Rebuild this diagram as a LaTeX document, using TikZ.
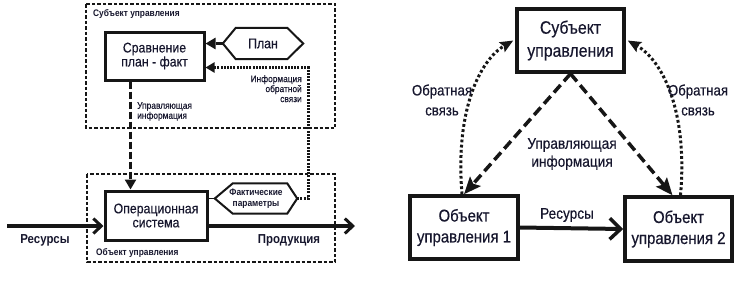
\documentclass[tikz,border=0pt]{standalone}
\usepackage{fontspec}
\setmainfont{Liberation Sans}[FakeStretch=0.88, UprightFeatures={FakeBold=0.35}]
\usetikzlibrary{arrows.meta,calc}
\definecolor{tc}{RGB}{22,22,45}
\definecolor{lc}{RGB}{22,22,22}
\begin{document}
\begin{tikzpicture}[x=1pt,y=-1pt,
  txt/.style={text=tc, inner sep=0pt, align=center},
  boxl/.style={draw=lc, line width=3pt, fill=white, inner sep=0pt, text=tc, align=center},
  region/.style={draw=lc, line width=1.3pt, dash pattern=on 3.5pt off 2pt},
  hexl/.style={draw=lc, line width=2pt, line join=miter},
  hexn/.style={inner sep=0pt, text=tc, align=center},
  ldash/.style={draw=lc, line width=2.6pt, dash pattern=on 7pt off 3pt, -{Triangle[length=10pt,width=11pt]}},
  ldot/.style={draw=lc, line width=3pt, dash pattern=on 2pt off 1.2pt, -{Triangle[length=9pt,width=10pt]}},
  barbarrow/.style={draw=lc, line width=3.5pt, -{Straight Barb[length=8pt,width=15pt,line width=3pt]}},
  rdash/.style={draw=lc, line width=3.5pt, dash pattern=on 10pt off 5pt, -{Stealth[length=17pt,width=14pt,inset=3pt]}},
  rdot/.style={draw=lc, line width=3pt, dash pattern=on 2.8pt off 2.4pt, -{Stealth[length=13pt,width=11pt,inset=2pt]}},
]
\useasboundingbox (0,0) rectangle (743,293);

% ---------- LEFT DIAGRAM ----------
\draw[region] (86,4) rectangle (335,128);
\node[txt, anchor=west, font=\fontsize{9.5}{11}\selectfont\bfseries] (lsubj) at (93,14) {Субъект управления};

\node[boxl, minimum width=99pt, minimum height=48pt, font=\fontsize{14}{14}\selectfont] (cmp) at (154.5,56) {Сравнение\\план - факт};

\node[hexn, minimum width=80pt, minimum height=31pt, font=\fontsize{14}{14}\selectfont] (plan) at (263,43.5) {План};
\draw[hexl] (plan.west) -- ([xshift=13pt]plan.north west) -- ([xshift=-16pt]plan.north east) -- (plan.east)
  -- ([xshift=-16pt]plan.south east) -- ([xshift=13pt]plan.south west) -- cycle;

\draw[ldash] (plan.west) -- (plan.west -| cmp.east);

\node[txt, anchor=north east, align=right, font=\fontsize{9.5}{10}\selectfont] (fbl) at (302,75) {Информация\\обратной\\связи};
\node[txt, anchor=north west, align=left, font=\fontsize{9.5}{10}\selectfont] (cil) at (137,102) {Управляющая\\информация};

\draw[region] (87,174) rectangle (335,262);
\node[boxl, minimum width=102pt, minimum height=49pt, font=\fontsize{14}{14}\selectfont] (ops) at (156,215.5) {Операционная\\система};

\node[hexn, minimum width=82pt, minimum height=30pt, font=\fontsize{9.5}{10.5}\selectfont\bfseries] (fact) at (256,198.5) {Фактические\\параметры};
\draw[hexl] (fact.west) -- ([xshift=18pt]fact.north west) -- ([xshift=-10pt]fact.north east) -- (fact.east)
  -- ([xshift=-10pt]fact.south east) -- ([xshift=18pt]fact.south west) -- cycle;
\draw[draw=lc, line width=1pt] (fact.west) -- (fact.west -| ops.east);

\coordinate (fb1) at (308,198.5);
\coordinate (fb2) at (308,67.5);
\draw[ldot] (fact.east) -- (fb1) -- (fb2) -- (fb2 -| cmp.east);

\draw[ldash] ([xshift=27pt]cmp.south west) -- ([xshift=27pt]ops.north west);

\coordinate (rin) at (7,226);
\coordinate (rout) at (355,226);
\draw[barbarrow] (rin) -- (rin -| ops.west);
\draw[barbarrow] (rout -| ops.east) -- (rout);

\node[txt, font=\fontsize{13}{13}\selectfont\bfseries] (res) at (45,240) {Ресурсы};
\node[txt, font=\fontsize{13}{13}\selectfont\bfseries] (prod) at (289,240) {Продукция};
\node[txt, anchor=west, font=\fontsize{9.5}{11}\selectfont\bfseries] (lobj) at (96,253) {Объект управления};

% ---------- RIGHT DIAGRAM ----------
\node[boxl, line width=3.5pt, minimum width=107pt, minimum height=63pt, font=\fontsize{18}{23}\selectfont] (subj) at (570.5,40.5) {Субъект\\управления};
\node[boxl, line width=3.5pt, minimum width=108pt, minimum height=63pt, font=\fontsize{17}{21}\selectfont] (obj1) at (464,227.5) {Объект\\управления 1};
\node[boxl, line width=3.5pt, minimum width=107pt, minimum height=64pt, font=\fontsize{17}{21}\selectfont] (obj2) at (678.5,229) {Объект\\управления 2};

\draw[rdash] (subj.south) -- (obj1.north);
\draw[rdash] (subj.south) -- ([xshift=-6pt]obj2.north);

\draw[rdot] ([xshift=-2pt]obj1.north) .. controls (455,110) and (480,60) .. ([xshift=-2pt]subj.west);
\draw[rdot] ([xshift=2pt]obj2.north) .. controls (688,110) and (662,60) .. ([xshift=2pt]subj.east);

\draw[draw=lc, line width=4pt, -{Straight Barb[length=11pt,width=21pt,line width=3.5pt]}] (obj1.east) -- (obj2.west);

\node[txt, font=\fontsize{15}{20}\selectfont] (fbleft) at (442,100) {Обратная\\связь};
\node[txt, font=\fontsize{15}{20}\selectfont] (fbright) at (698,100) {Обратная\\связь};
\node[txt, font=\fontsize{15.5}{18}\selectfont] (cinf) at (572,154) {Управляющая\\информация};
\node[txt, font=\fontsize{15.5}{18}\selectfont] (rres) at (567,215) {Ресурсы};
\end{tikzpicture}
\end{document}
